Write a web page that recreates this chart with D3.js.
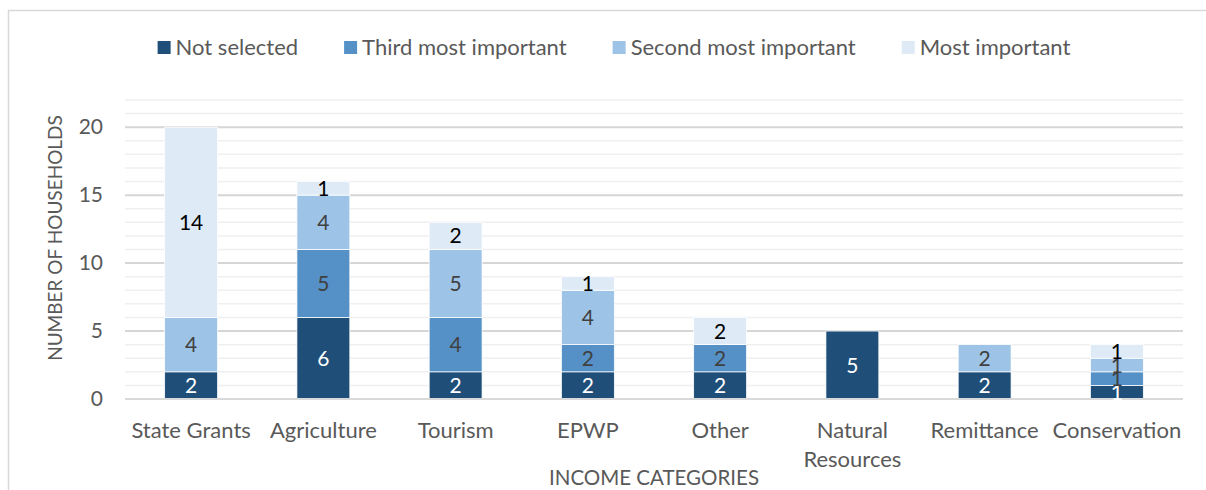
<!DOCTYPE html>
<html>
<head>
<meta charset="utf-8">
<script src="https://cdn.jsdelivr.net/npm/d3@7"></script>
<style>
  html, body { margin: 0; padding: 0; background: #fff; }
  svg { display: block; font-family: Lato, "Open Sans", sans-serif; }
</style>
</head>
<body>
<svg id="chart" width="1206" height="490"></svg>
<script>
// Income categories and household counts per ranking
const categories = ["State Grants", "Agriculture", "Tourism", "EPWP", "Other", "Natural Resources", "Remittance", "Conservation"];
const seriesNames = ["Not selected", "Third most important", "Second most important", "Most important"];
const notSelected   = [2, 6, 2, 2, 2, 5, 2, 1];
const thirdMost     = [0, 5, 4, 2, 2, 0, 0, 1];
const secondMost    = [4, 4, 5, 4, 0, 0, 2, 1];
const mostImportant = [14, 1, 2, 1, 2, 0, 0, 1];
const yTicks = [0, 5, 10, 15, 20];
const yMax = 22;

const seriesValues = [notSelected, thirdMost, secondMost, mostImportant];
const colors = ["#1f4e79", "#5591c7", "#9dc3e6", "#deebf7"];
const labelColors = ["#ffffff", "#404040", "#404040", "#000000"];

const svg = d3.select("#chart");
const plot = { left: 125, right: 1183, top: 100, bottom: 399 };

// chart frame
svg.append("rect")
  .attr("x", 8.5).attr("y", 10.5)
  .attr("width", 1400).attr("height", 800)
  .attr("fill", "#fff").attr("stroke", "#d9d9d9").attr("stroke-width", 1.5);

const x = d3.scaleBand()
  .domain(categories)
  .range([plot.left, plot.right])
  .paddingInner(0.6)
  .paddingOuter(0.3);

const y = d3.scaleLinear().domain([0, yMax]).range([plot.bottom, plot.top]);

// gridlines: minor every unit, major every 5
const grid = svg.append("g");
d3.range(1, yMax + 1).forEach(v => {
  const major = v % 5 === 0;
  grid.append("line")
    .attr("x1", plot.left).attr("x2", plot.right)
    .attr("y1", y(v)).attr("y2", y(v))
    .attr("stroke", major ? "#d6d6d6" : "#efefef")
    .attr("stroke-width", major ? 2 : 1.5);
});

// stacked data
const rows = categories.map((c, i) => {
  const r = { category: c };
  seriesNames.forEach((s, k) => r[s] = seriesValues[k][i]);
  return r;
});
const stacked = d3.stack().keys(seriesNames)(rows);

const layers = svg.append("g").selectAll("g")
  .data(stacked)
  .join("g")
  .attr("fill", (d, k) => colors[k]);

layers.selectAll("rect")
  .data(d => d.filter(p => p[1] - p[0] > 0))
  .join("rect")
  .attr("x", p => x(p.data.category))
  .attr("width", x.bandwidth())
  .attr("y", p => y(p[1]))
  .attr("height", p => y(p[0]) - y(p[1]))
  .attr("stroke", "#ffffff")
  .attr("stroke-width", 0.75);

// baseline axis
svg.append("line")
  .attr("x1", plot.left).attr("x2", plot.right)
  .attr("y1", y(0)).attr("y2", y(0))
  .attr("stroke", "#d9d9d9").attr("stroke-width", 2);

// value labels
const labels = svg.append("g")
  .attr("font-size", 21)
  .attr("text-anchor", "middle");
stacked.forEach((layer, k) => {
  labels.selectAll(null)
    .data(layer.filter(p => p[1] - p[0] > 0))
    .join("text")
    .attr("x", p => x(p.data.category) + x.bandwidth() / 2)
    .attr("y", p => (y(p[0]) + y(p[1])) / 2)
    .attr("dy", "0.36em")
    .attr("fill", labelColors[k])
    .text(p => p[1] - p[0]);
});

// y axis
const yAxis = d3.axisLeft(y).tickValues(yTicks).tickSize(0).tickPadding(0);
const yg = svg.append("g")
  .attr("transform", `translate(${plot.left - 22},0)`)
  .call(yAxis);
yg.select(".domain").remove();
yg.selectAll("text")
  .attr("font-family", "Lato, 'Open Sans', sans-serif")
  .attr("font-size", 21)
  .attr("fill", "#595959");

// x axis
const xAxis = d3.axisBottom(x).tickSize(0).tickPadding(0);
const xg = svg.append("g")
  .attr("transform", `translate(0,${plot.bottom + 23})`)
  .call(xAxis);
xg.select(".domain").remove();
xg.selectAll("text")
  .attr("font-family", "Lato, 'Open Sans', sans-serif")
  .attr("font-size", 22)
  .attr("fill", "#595959")
  .attr("dy", "0.71em")
  .each(function(d) {
    const t = d3.select(this);
    if (d === "Natural Resources") {
      t.text(null);
      d.split(" ").forEach((w, i) => {
        t.append("tspan")
          .attr("x", 0)
          .attr("dy", i === 0 ? "0.71em" : "1.32em")
          .text(w);
      });
      t.attr("dy", null);
    }
  });

// axis titles
svg.append("text")
  .attr("transform", `translate(62,238) rotate(-90)`)
  .attr("text-anchor", "middle")
  .attr("font-size", 19)
  .attr("fill", "#595959")
  .text("NUMBER OF HOUSEHOLDS");

svg.append("text")
  .attr("x", (plot.left + plot.right) / 2)
  .attr("y", 485)
  .attr("text-anchor", "middle")
  .attr("font-size", 20.5)
  .attr("fill", "#595959")
  .text("INCOME CATEGORIES");

// legend, centred across the chart
const legend = svg.append("g");
const items = legend.selectAll("g")
  .data(seriesNames)
  .join("g");
items.append("rect")
  .attr("width", 13).attr("height", 13)
  .attr("y", 41)
  .attr("fill", (d, k) => colors[k]);
items.append("text")
  .attr("x", 18)
  .attr("y", 55)
  .attr("font-size", 22)
  .attr("fill", "#595959")
  .text(d => d);
let cursor = 0;
const gap = 46;
items.each(function() {
  const g = d3.select(this);
  const w = 18 + g.select("text").node().getComputedTextLength();
  g.attr("transform", `translate(${cursor},0)`);
  cursor += w + gap;
});
const totalW = cursor - gap;
legend.attr("transform", `translate(${614 - totalW / 2},0)`);
</script>
</body>
</html>
